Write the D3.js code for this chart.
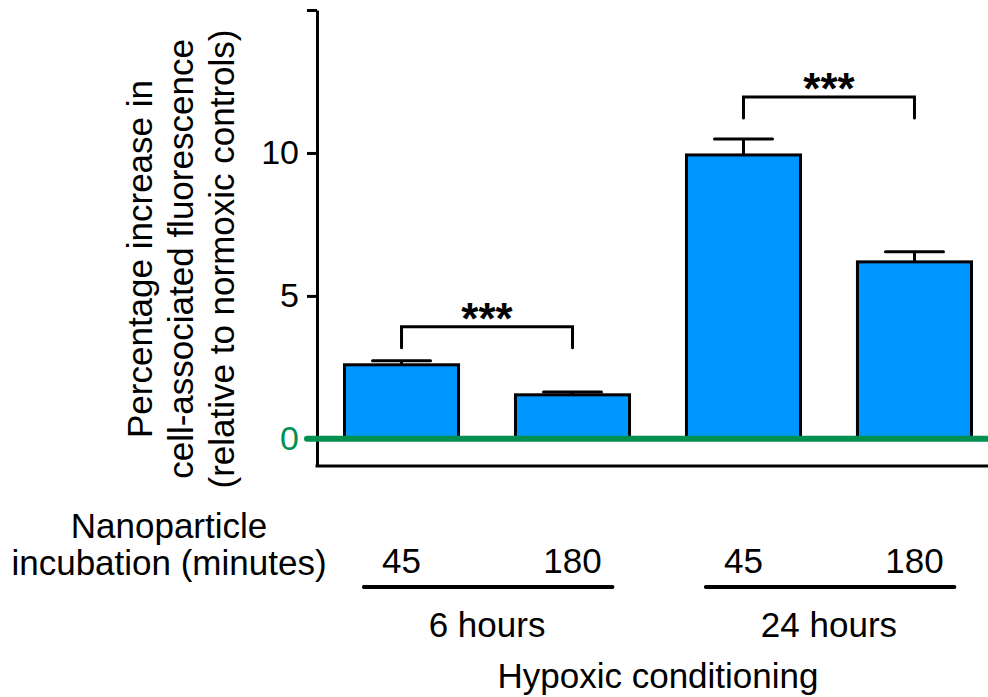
<!DOCTYPE html>
<html>
<head>
<meta charset="utf-8">
<script src="https://cdn.jsdelivr.net/npm/d3@7"></script>
<style>
  body { margin: 0; background: #fff; }
  svg { display: block; font-family: "Liberation Sans", Arial, sans-serif; }
</style>
</head>
<body>
<svg></svg>
<script>
const size = { w: 988, h: 697 };

// data
const incubation = ["45", "180", "45", "180"];
const conditioning = ["6 hours", "6 hours", "24 hours", "24 hours"];
const means = [2.59, 1.54, 9.93, 6.19];
const errTops = [2.73, 1.64, 10.49, 6.54];
const groups = ["6 hours", "24 hours"];
const brackets = [
  { from: 0, to: 1, y: 3.92, label: "***" },
  { from: 2, to: 3, y: 11.96, label: "***" },
];
const yTicks = [0, 5, 10, 15];
const yTickLabels = ["0", "5", "10", ""];

const barFill = "#0096ff";
const green = "#009150";
const fs = 35;

const svg = d3.select("svg").attr("width", size.w).attr("height", size.h);

const y = d3.scaleLinear().domain([-0.95, 15]).range([466, 10]);
const x = d3
  .scaleBand()
  .domain(d3.range(means.length))
  .range([316, 1000])
  .paddingInner(0.333)
  .paddingOuter(0.1667);
const bw = x.bandwidth();
const cx = (i) => x(i) + bw / 2;

// --------- AXES ----------
const yAxis = d3
  .axisLeft(y)
  .tickValues(yTicks)
  .tickFormat((d, i) => yTickLabels[i])
  .tickSize(10)
  .tickSizeOuter(0)
  .tickPadding(8);

const axisG = svg.append("g").attr("transform", "translate(317,0)").call(yAxis);
axisG.select(".domain").attr("stroke", "#000").attr("stroke-width", 3);
axisG.selectAll(".tick line").attr("stroke", "#000").attr("stroke-width", 3);
axisG
  .selectAll(".tick text")
  .attr("font-size", 34)
  .attr("font-family", "Liberation Sans, Arial, sans-serif")
  .attr("fill", (d) => (d === 0 ? green : "#000"));

// bottom frame line
svg.append("line")
  .attr("x1", 315.5).attr("x2", size.w)
  .attr("y1", y(-0.95)).attr("y2", y(-0.95))
  .attr("stroke", "#000").attr("stroke-width", 3);

// --------- BARS ----------
svg.append("g")
  .selectAll("rect")
  .data(means)
  .join("rect")
  .attr("x", (d, i) => x(i))
  .attr("width", bw)
  .attr("y", (d) => y(d))
  .attr("height", (d) => y(0) - y(d))
  .attr("fill", barFill)
  .attr("stroke", "#000")
  .attr("stroke-width", 3);

// error bars (upper only)
const errG = svg.append("g").attr("stroke", "#000").attr("stroke-width", 3);
errG.selectAll("line.v")
  .data(errTops)
  .join("line")
  .classed("v", true)
  .attr("x1", (d, i) => cx(i)).attr("x2", (d, i) => cx(i))
  .attr("y1", (d, i) => y(means[i])).attr("y2", (d) => y(d));
errG.selectAll("line.cap")
  .data(errTops)
  .join("line")
  .classed("cap", true)
  .attr("stroke-linecap", "round")
  .attr("x1", (d, i) => cx(i) - 29).attr("x2", (d, i) => cx(i) + 29)
  .attr("y1", (d) => y(d)).attr("y2", (d) => y(d));

// zero line
svg.append("line")
  .attr("x1", 307).attr("x2", size.w)
  .attr("y1", y(0)).attr("y2", y(0))
  .attr("stroke", green).attr("stroke-width", 6)
  .attr("stroke-linecap", "round");

// --------- SIGNIFICANCE BRACKETS ----------
const brG = svg.append("g");
brG.selectAll("path")
  .data(brackets)
  .join("path")
  .attr("fill", "none")
  .attr("stroke", "#000")
  .attr("stroke-width", 3)
  .attr("stroke-linecap", "round")
  .attr("d", (d) => {
    const yy = y(d.y);
    return `M${cx(d.from)},${yy + 21}V${yy}H${cx(d.to)}V${yy + 21}`;
  });
brG.selectAll("text")
  .data(brackets)
  .join("text")
  .attr("x", (d) => (cx(d.from) + cx(d.to)) / 2)
  .attr("y", (d) => y(d.y) + 7)
  .attr("text-anchor", "middle")
  .attr("font-size", 44)
  .attr("font-weight", "bold")
  .text((d) => d.label);

// --------- X LABELS ----------
svg.append("g")
  .selectAll("text")
  .data(incubation)
  .join("text")
  .attr("x", (d, i) => cx(i))
  .attr("y", 573)
  .attr("text-anchor", "middle")
  .attr("font-size", fs)
  .text((d) => d);

groups.forEach((g) => {
  const idx = d3.range(means.length).filter((i) => conditioning[i] === g);
  const first = idx[0], last = idx[idx.length - 1];
  svg.append("line")
    .attr("x1", x(first) + bw * 0.17)
    .attr("x2", x(last) + bw * 0.85)
    .attr("y1", 587).attr("y2", 587)
    .attr("stroke", "#000").attr("stroke-width", 4)
    .attr("stroke-linecap", "round");
  svg.append("text")
    .attr("x", (x(first) + x(last) + bw) / 2)
    .attr("y", 637)
    .attr("text-anchor", "middle")
    .attr("font-size", fs)
    .text(g);
});

svg.append("text")
  .attr("x", (x(0) + x(means.length - 1) + bw) / 2)
  .attr("y", 688)
  .attr("text-anchor", "middle")
  .attr("font-size", fs)
  .text("Hypoxic conditioning");

const incLabel = svg.append("text")
  .attr("text-anchor", "middle")
  .attr("font-size", fs);
incLabel.append("tspan").attr("x", 169).attr("y", 538).text("Nanoparticle");
incLabel.append("tspan").attr("x", 169).attr("y", 575).text("incubation (minutes)");

// --------- Y LABEL ----------
const yLabelLines = [
  "Percentage increase in",
  "cell-associated fluorescence",
  "(relative to normoxic controls)",
];
const yl = svg.append("text")
  .attr("transform", "translate(0,259) rotate(-90)")
  .attr("text-anchor", "middle")
  .attr("font-size", fs);
yl.selectAll("tspan")
  .data(yLabelLines)
  .join("tspan")
  .attr("x", 0)
  .attr("y", (d, i) => 152 + i * 41)
  .text((d) => d);
</script>
</body>
</html>
